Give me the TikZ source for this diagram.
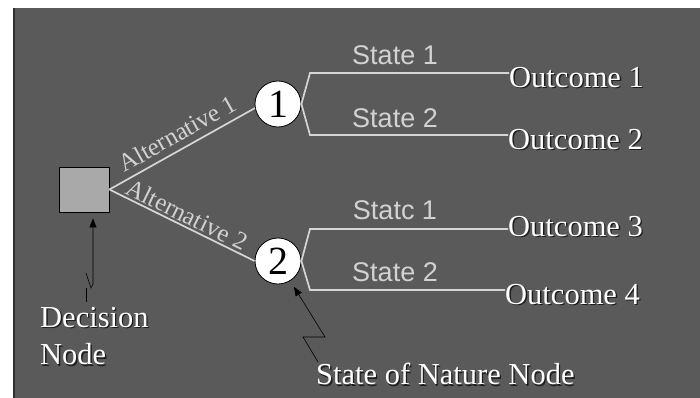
\documentclass[tikz,border=0pt]{standalone}
\usepackage{fontspec}
\setmainfont{Liberation Serif}
\newfontfamily\labelsans{Liberation Sans}
\usetikzlibrary{arrows.meta}
\definecolor{bg}{HTML}{5A5A5A}
\definecolor{edgedark}{HTML}{2E2E2E}
\definecolor{boxfill}{HTML}{A9A9A9}
\definecolor{treeline}{HTML}{D6D6D6}
\definecolor{labelc}{HTML}{D2D2D2}
\definecolor{shade}{HTML}{1E1E1E}
% white lettering with a small dark drop shadow
\newcommand\dropshade[1]{\rlap{\kern1.3pt\raisebox{-1.3pt}{\textcolor{shade}{#1}}}#1}
\begin{document}
\begin{tikzpicture}[x=1pt,y=-1pt,
  branch/.style={draw=treeline, line width=1.7pt},
  chance/.style={circle, draw=black, line width=0.8pt, fill=white, minimum size=46pt,
    inner sep=0pt, font=\fontsize{40}{40}\selectfont},
  decision/.style={draw=black, line width=0.8pt, fill=boxfill, minimum width=50pt,
    minimum height=45pt, inner sep=0pt},
  whitetext/.style={anchor=west, text=white, inner sep=0pt, font=\fontsize{30.5}{30.5}\selectfont},
  statelbl/.style={text=labelc, inner sep=0pt, font=\labelsans\fontsize{27}{27}\selectfont},
  altlbl/.style={text=labelc, sloped, inner sep=0pt, font=\fontsize{25}{25}\selectfont},
  pointer/.style={draw=black, line width=0.6pt},
  tip/.style={-{Triangle[length=9pt,width=7pt]}}]
\useasboundingbox (0,0) rectangle (700,398);
% backdrop
\fill[white] (0,0) rectangle (700,398);
\fill[bg] (13,8) rectangle (700,398);
\draw[edgedark, line width=1.5pt] (13.75,8) -- (13.75,398);

% decision node and chance nodes
\node[decision] (dec) at (84,189.5) {};
\node[chance] (c1) at (278,104) {1};
\node[chance] (c2) at (278,261) {2};

% outcomes
\node[whitetext] (o1) at (509,78) {\dropshade{Outcome 1}};
\node[whitetext] (o2) at (508,140) {\dropshade{Outcome 2}};
\node[whitetext] (o3) at (508,227) {\dropshade{Outcome 3}};
\node[whitetext] (o4) at (505,295) {\dropshade{Outcome 4}};

% alternatives
\draw[branch] (dec.east) -- (c1.190)
  node[altlbl, pos=0.52, anchor=south, yshift=6pt] {Alternative 1};
\draw[branch] (dec.east) -- (c2.180)
  node[altlbl, pos=0.5, anchor=south, yshift=2pt] {Alternative 2};

% states of nature
\coordinate (k1) at (310,73);
\coordinate (k2) at (310,135);
\coordinate (k3) at (310,229);
\coordinate (k4) at (310,290);
\draw[branch] (c1.east) -- (k1) -- (k1 -| o1.west);
\draw[branch] (c1.east) -- (k2) -- (k2 -| o2.west);
\draw[branch] (c2.east) -- (k3) -- (k3 -| o3.west);
\draw[branch] (c2.east) -- (k4) -- (k4 -| o4.west);

\node[statelbl] (s1) at (395,55) {State 1};
\node[statelbl] (s2) at (395,118) {State 2};
\node[statelbl] (s3) at (395,210) {Statc 1};
\node[statelbl] (s4) at (395,272) {State 2};

% captions
\node[whitetext] (dl1) at (40,318) {\dropshade{Decision}};
\node[whitetext] (dl2) at (40,355) {\dropshade{Node}};
\node[whitetext] (nl) at (316,375) {\dropshade{State of Nature Node}};

% pointers
\coordinate (da) at (86,302);
\coordinate (db) at (86,288);
\coordinate (dc) at (86,273);
\coordinate (dd) at (91,288);
\coordinate (de) at (93,284);
\draw[pointer] (da) -- (db);
\draw[pointer, tip, shorten >=6pt] (dc) -- (dd) -- (de) -- (de |- dec.south);
\coordinate (na) at (318,362);
\coordinate (nb) at (303,337);
\coordinate (nc) at (325,337);
\draw[pointer, tip, shorten >=7pt] (na) -- (nb) -- (nc) -- (c2);
\end{tikzpicture}
\end{document}
